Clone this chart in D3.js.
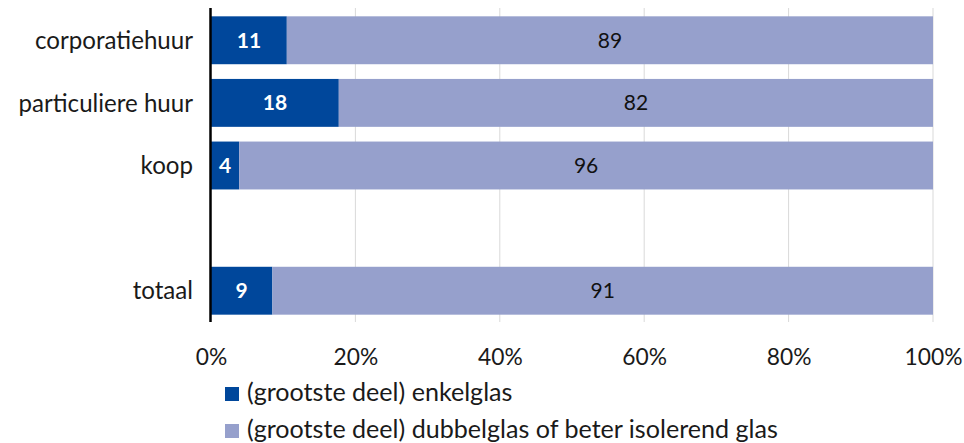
<!DOCTYPE html>
<html><head><meta charset="utf-8">
<script src="https://cdn.jsdelivr.net/npm/d3@7"></script>
<style>body{margin:0;background:#fff}</style>
</head><body><svg id="c" width="964" height="443"></svg>
<script>
const categories = ["corporatiehuur", "particuliere huur", "koop", "", "totaal"];
const enkelglas = [10.5, 17.7, 3.9, null, 8.5];
const dubbelglas = [89.5, 82.3, 96.1, null, 91.5];
const enkelLabels = ["11", "18", "4", "", "9"];
const dubbelLabels = ["89", "82", "96", "", "91"];
const ticks = [0, 20, 40, 60, 80, 100];
const seriesNames = ["(grootste deel) enkelglas", "(grootste deel) dubbelglas of beter isolerend glas"];
const colors = ["#00479b", "#96a0cc"];

const FONT = "Lato, 'Open Sans', sans-serif";
const svg = d3.select("#c");
const x = d3.scaleLinear().domain([0, 100]).range([211, 933]);
const y = d3.scaleBand().domain(categories.map((d,i)=>i)).range([9, 322]).paddingInner(0.235).paddingOuter(0.117);

// fit a selection's font so that reference text node has target width
function fit(sel, refNode, target, base) {
  const w = refNode.getComputedTextLength();
  const fs = Math.max(14, Math.min(26, base * target / w));
  sel.attr("font-size", fs);
}

// gridlines
svg.append("g").selectAll("line").data(ticks.slice(1)).join("line")
  .attr("x1", d=>x(d)).attr("x2", d=>x(d)).attr("y1", 8).attr("y2", 322)
  .attr("stroke", "#d9d9d9").attr("stroke-width", 1);

const rows = categories.map((c,i)=>({c, i, a: enkelglas[i], b: dubbelglas[i], la: enkelLabels[i], lb: dubbelLabels[i]})).filter(d=>d.a!=null);

svg.append("g").selectAll("rect").data(rows).join("rect")
  .attr("x", x(0)).attr("y", d=>y(d.i)).attr("width", d=>x(d.a)-x(0)).attr("height", y.bandwidth())
  .attr("fill", colors[0]);
svg.append("g").selectAll("rect").data(rows).join("rect")
  .attr("x", d=>x(d.a)).attr("y", d=>y(d.i)).attr("width", d=>x(d.a+d.b)-x(d.a)).attr("height", y.bandwidth())
  .attr("fill", colors[1]);

svg.append("g").selectAll("text").data(rows).join("text")
  .attr("x", d=>(x(0)+x(d.a))/2).attr("y", d=>y(d.i)+y.bandwidth()/2).attr("dy", "0.36em")
  .attr("text-anchor", "middle").attr("fill", "#fff").attr("font-weight", "bold")
  .attr("font-family", FONT).attr("font-size", 21).text(d=>d.la);
svg.append("g").selectAll("text").data(rows).join("text")
  .attr("x", d=>(x(d.a)+x(d.a+d.b))/2).attr("y", d=>y(d.i)+y.bandwidth()/2).attr("dy", "0.36em")
  .attr("text-anchor", "middle").attr("fill", "#111")
  .attr("font-family", FONT).attr("font-size", 21).text(d=>d.lb);

// category labels
const cat = svg.append("g").selectAll("text").data(rows).join("text")
  .attr("x", 193).attr("y", d=>y(d.i)+y.bandwidth()/2).attr("dy", "0.36em")
  .attr("text-anchor", "end").attr("fill", "#1a1a1a")
  .attr("font-family", FONT).attr("font-size", 21).text(d=>d.c);
fit(cat, cat.nodes()[0], 158, 21);

// y axis line
svg.append("line").attr("x1", 210.5).attr("x2", 210.5).attr("y1", 8).attr("y2", 322)
  .attr("stroke", "#000").attr("stroke-width", 2.5);

// x tick labels
const xAxis = d3.axisBottom(x).tickValues(ticks).tickSize(0).tickFormat(d=>d+"%");
const ax = svg.append("g").attr("transform", "translate(0,346)").call(xAxis);
ax.select(".domain").remove();
const tl = ax.selectAll("text").attr("font-family", FONT).attr("font-size", 21).attr("fill", "#1a1a1a");
fit(tl, tl.nodes()[5], 58, 21);

// legend
const lg = svg.append("g").selectAll("g").data(seriesNames).join("g")
  .attr("transform", (d,i)=>`translate(225,${387+i*37})`);
lg.append("rect").attr("width", 14).attr("height", 14).attr("fill", (d,i)=>colors[i]);
const lt = lg.append("text").attr("x", 22).attr("y", 14).attr("font-family", FONT)
  .attr("font-size", 21).attr("fill", "#1a1a1a").text(d=>d);
fit(lt, lt.nodes()[1], 531, 21);
</script></body></html>
